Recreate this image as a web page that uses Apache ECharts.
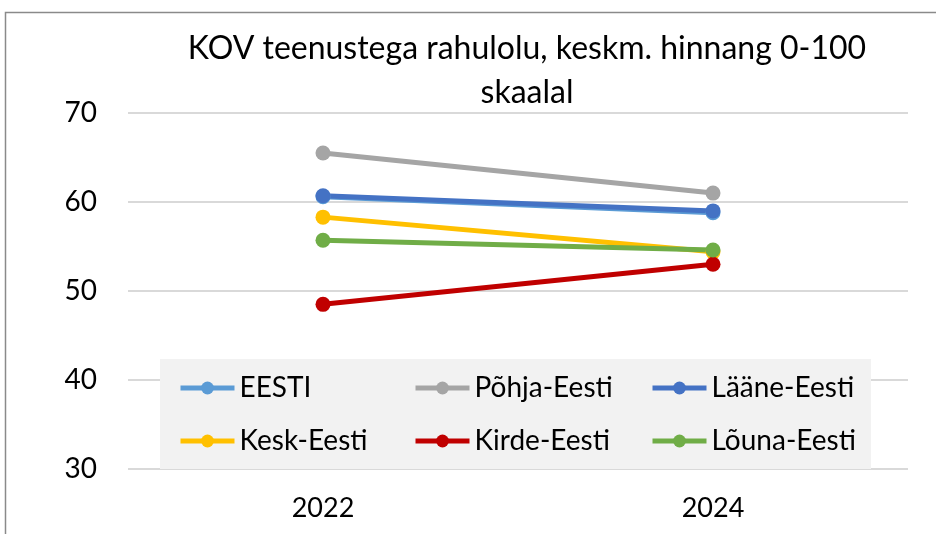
<!DOCTYPE html>
<html>
<head>
<meta charset="utf-8">
<script src="https://cdn.jsdelivr.net/npm/echarts@6/dist/echarts.min.js"></script>
<style>
  html, body { margin: 0; padding: 0; background: #fff; }
  #chart { width: 936px; height: 534px; }
</style>
</head>
<body>
<div id="chart"></div>
<script>
const years = ['2022', '2024'];
const names = ['EESTI', 'Põhja-Eesti', 'Lääne-Eesti', 'Kesk-Eesti', 'Kirde-Eesti', 'Lõuna-Eesti'];
const colors = ['#5B9BD5', '#A5A5A5', '#4472C4', '#FFC000', '#C00000', '#70AD47'];
const eesti = [60.6, 58.8];
const pohja = [65.5, 61.0];
const laane = [60.7, 59.0];
const kesk = [58.3, 54.4];
const kirde = [48.5, 53.0];
const louna = [55.7, 54.6];
const values = [eesti, pohja, laane, kesk, kirde, louna];

const font = 'Lato, "Liberation Sans", sans-serif';
const chart = echarts.init(document.getElementById('chart'));

// one legend per column so the columns line up like in the original
function legendCol(left, items) {
  return {
    orient: 'vertical',
    left: left,
    top: 374,
    z: 10,
    padding: 0,
    itemWidth: 54,
    itemHeight: 16,
    itemGap: 25,
    data: items,
    lineStyle: { width: 5 },
    textStyle: { fontFamily: font, fontSize: 28, lineHeight: 28, color: '#000' }
  };
}

const option = {
  animation: false,
  color: colors,
  title: {
    text: 'KOV teenustega rahulolu, keskm. hinnang 0-100\nskaalal',
    left: 522,
    top: 22,
    textAlign: 'center',
    textStyle: { fontFamily: font, fontSize: 32, fontWeight: 'normal', lineHeight: 44, color: '#000' }
  },
  graphic: [
    { type: 'rect', z: 0, shape: { x: 5.5, y: 12.5, width: 1000, height: 1000 },
      style: { fill: 'none', stroke: '#8a8a8a', lineWidth: 1.5 } },
    { type: 'rect', z: 9, shape: { x: 160, y: 359, width: 711, height: 110 },
      style: { fill: '#f2f2f2' } }
  ],
  legend: [
    legendCol(178, [names[0], names[3]]),
    legendCol(413, [names[1], names[4]]),
    legendCol(650, [names[2], names[5]])
  ],
  grid: { left: 128, right: 28, top: 113, bottom: 65 },
  xAxis: {
    type: 'category',
    data: years,
    axisLine: { show: false },
    axisTick: { show: false },
    axisLabel: { fontFamily: font, fontSize: 27, color: '#000', margin: 26 }
  },
  yAxis: {
    type: 'value',
    min: 30,
    max: 70,
    interval: 10,
    axisLabel: { fontFamily: font, fontSize: 28, color: '#000', margin: 31 },
    splitLine: { lineStyle: { color: '#d9d9d9', width: 2 } }
  },
  series: names.map((n, i) => ({
    name: n,
    type: 'line',
    data: values[i],
    symbol: 'circle',
    symbolSize: 15,
    z: 2,
    lineStyle: { width: 5, color: colors[i] },
    itemStyle: { color: colors[i] }
  }))
};
chart.setOption(option);
</script>
</body>
</html>
